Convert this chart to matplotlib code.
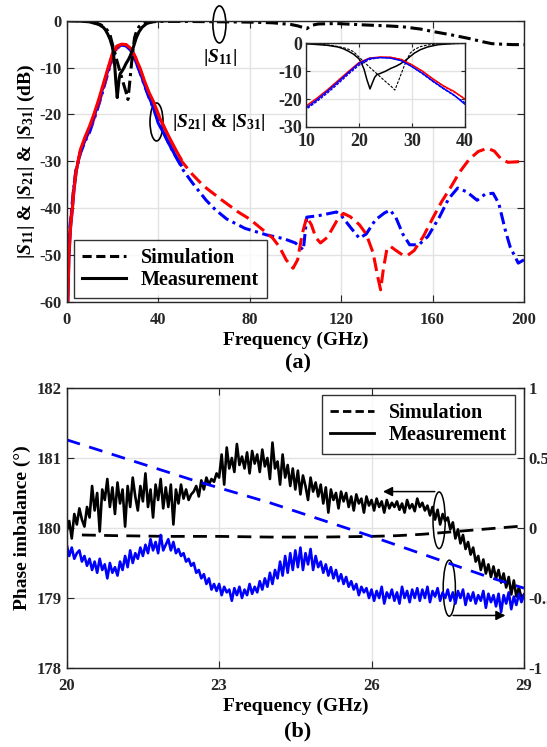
import numpy as np
import matplotlib.pyplot as plt
from matplotlib.patches import Ellipse
from matplotlib.lines import Line2D

plt.rcParams["font.family"] = ["Liberation Serif", "DejaVu Serif"]
plt.rcParams["font.weight"] = "bold"
plt.rcParams["axes.labelweight"] = "bold"
plt.rcParams["mathtext.fontset"] = "custom"
plt.rcParams["mathtext.rm"] = "Liberation Serif:bold"
plt.rcParams["mathtext.it"] = "Liberation Serif:italic:bold"
plt.rcParams["mathtext.bf"] = "Liberation Serif:bold"
plt.rcParams["axes.unicode_minus"] = False

DARK = "#262626"
GRID = "#e2e2e2"

# ---- (a) S-parameters, 0-200 GHz (simulation) and 0-50 GHz (measurement)
s11_sim_f = [0, 5, 10, 13, 15, 17, 18, 19, 20, 21, 22, 23, 24, 25, 26, 26.8, 27.5, 28.4, 29.0,
             29.7, 30.5, 31.6, 33, 35, 40, 50, 60, 70, 80, 90, 98, 101, 103, 105, 107, 110,
             118, 130, 140, 147, 155, 160, 168, 176, 182, 186, 190, 195, 200]
s11_sim_db = [0, -0.05, -0.2, -0.5, -0.9, -1.6, -2.2, -3.1, -5.0, -6.8, -8.6, -10.3, -12.0,
              -13.7, -15.3, -16.8, -13.5, -9.0, -6.2, -3.6, -2.3, -1.3, -0.7, -0.35, -0.15,
              -0.15, -0.2, -0.25, -0.3, -0.45, -0.8, -1.1, -1.4, -1.7, -1.0, -0.7, -0.6, -0.9,
              -1.1, -1.3, -1.8, -2.3, -3.0, -3.8, -4.5, -4.9, -5.0, -5.1, -5.1]

s11_meas_f = [0, 5, 10, 14, 16, 17, 18, 19, 20, 20.5, 21, 21.5, 22.1, 22.6, 23.0, 23.4, 24,
              24.5, 25, 26, 27, 27.8, 28.5, 29.2, 29.7, 30.5, 31.6, 33, 35, 38, 40, 45, 50]
s11_meas_db = [0, -0.05, -0.25, -0.8, -1.4, -2.0, -2.9, -4.0, -5.6, -7.2, -9.5, -13.0, -16.4,
               -14.0, -12.2, -11.3, -10.9, -10.5, -10.1, -9.1, -8.3, -7.5, -6.6, -5.6, -4.8,
               -3.6, -2.4, -1.4, -0.6, -0.15, -0.05, 0, 0]

s21_sim_f = [0.3, 0.8, 1.5, 2.3, 3, 4, 6, 8, 10, 12, 14, 16, 18, 20, 22, 24, 26, 28, 30, 32,
             34, 36, 38, 40, 45, 50, 55, 60, 68, 75, 80, 86, 90, 93, 96, 99, 101, 103, 105,
             107, 109, 111, 114, 118, 121, 124, 128, 131, 134, 136, 137.3, 138.5, 140, 141.5,
             144, 147, 149, 152, 156, 160, 164, 168, 172, 176, 180, 184, 187, 190, 193, 197,
             200]
s21_sim_db = [-60, -50, -44, -40, -36, -32, -28, -25.5, -23.5, -20.8, -17.8, -14.5, -11.0,
              -7.8, -5.8, -5.1, -5.1, -5.8, -7.7, -10.2, -13.0, -15.5, -17.6, -19.8, -25.3,
              -29.8, -32.8, -35.3, -38.3, -40.8, -42.3, -44.7, -46.3, -48.2, -51.0, -52.8,
              -51.0, -45.5, -41.9, -43.5, -46.3, -47.4, -46.2, -42.8, -41.1, -41.8, -43.5,
              -45.5, -49.5, -54.5, -57.4, -53.0, -48.8, -48.1, -49.0, -50.0, -50.1, -49.0,
              -46.0, -42.2, -38.6, -35.5, -32.2, -29.6, -27.9, -27.2, -27.8, -29.5, -30.2,
              -30.1, -29.9]

s31_sim_f = [0.2, 0.7, 1.4, 2.2, 3, 4, 6, 8, 10, 12, 14, 16, 18, 20, 22, 24, 26, 28, 30, 32,
             34, 36, 38, 40, 45, 48, 51, 55, 61, 65, 70, 78, 87.5, 95, 100, 102, 103.5, 105,
             110, 115, 118, 120, 124, 128, 131, 135, 139, 141.5, 144, 147, 150, 154, 158,
             163, 167, 171, 175, 179.5, 183, 186.5, 189, 192, 194, 197.5, 200]
s31_sim_db = [-60, -50, -44, -40, -36, -32, -28.3, -25.8, -23.8, -21.0, -18.0, -14.7, -11.2,
              -8.0, -5.9, -5.2, -5.3, -6.2, -8.4, -11.0, -13.8, -16.4, -18.8, -21.2, -26.6,
              -29.2, -31.9, -34.6, -38.3, -40.3, -42.3, -44.3, -45.7, -46.5, -47.4, -48.2,
              -48.9, -41.9, -41.6, -41.1, -40.8, -41.5, -44.0, -46.4, -45.5, -42.5, -41.0,
              -40.4, -42.0, -45.5, -47.8, -47.8, -46.0, -41.9, -38.0, -35.7, -36.5, -38.3,
              -37.0, -36.8, -39.0, -45.0, -48.3, -51.7, -51.0]

s21_meas_f = [0.5, 1, 1.7, 2.5, 3.2, 4.2, 6, 8, 10, 12, 14, 16, 18, 20, 22, 24, 26, 28, 30,
              32, 34, 36, 38, 40, 42, 45, 48, 50]
s21_meas_db = [-60, -50, -44, -40, -36, -32, -27.5, -24.8, -22.5, -19.8, -16.8, -13.5, -10.2,
               -7.0, -5.4, -5.0, -5.1, -5.9, -7.8, -10.0, -12.8, -15.3, -17.3, -20.0, -22.1,
               -25.0, -27.8, -29.5]

s31_meas_f = [0.5, 1, 1.7, 2.5, 3.2, 4.2, 6, 8, 10, 12, 14, 16, 18, 20, 22, 24, 26, 28, 30,
              32, 34, 36, 38, 40, 42, 45, 48, 50]
s31_meas_db = [-60, -50, -44, -40, -36, -32, -27.8, -25.4, -23.2, -20.4, -17.3, -14.0, -10.6,
               -7.3, -5.5, -5.2, -5.4, -6.3, -8.4, -10.8, -13.6, -16.2, -18.6, -21.8, -23.6,
               -26.5, -29.2, -30.8]

# ---- (b) phase / amplitude imbalance, 20-29 GHz sweep in 50 MHz steps
freq_b = np.round(np.arange(20.0, 29.001, 0.05), 2)
phase_meas = [
    179.95, 180.10, 179.85, 180.20, 180.05, 180.28, 180.12, 180.02, 180.30, 180.15,
    180.60, 180.25, 180.50, 179.95, 180.55, 180.40, 180.70, 180.30, 180.58, 180.20,
    180.65, 180.35, 180.55, 180.02, 180.60, 180.30, 180.72, 180.45, 180.25, 180.60,
    180.38, 180.78, 180.30, 180.55, 180.15, 180.62, 180.40, 180.70, 180.28, 180.58,
    180.30, 180.62, 180.05, 180.55, 180.35, 180.62, 180.42, 180.55, 180.40, 180.48,
    180.52, 180.60, 180.45, 180.68, 180.55, 180.72, 180.62, 180.70, 180.66, 180.78,
    180.72, 181.05, 180.62, 181.15, 180.85, 181.00, 180.80, 181.20, 180.90, 181.02,
    180.85, 181.08, 180.78, 181.10, 180.92, 181.05, 180.80, 181.12, 180.88, 181.00,
    180.70, 181.22, 180.85, 180.95, 180.62, 181.05, 180.72, 180.90, 180.60, 180.85,
    180.55, 180.82, 180.48, 180.75, 180.60, 180.40, 180.72, 180.52, 180.65, 180.45,
    180.62, 180.35, 180.58, 180.22, 180.55, 180.40, 180.50, 180.28, 180.52, 180.38,
    180.50, 180.30, 180.45, 180.25, 180.48, 180.35, 180.42, 180.22, 180.45, 180.32,
    180.40, 180.25, 180.42, 180.30, 180.38, 180.22, 180.40, 180.28, 180.36, 180.30,
    180.38, 180.26, 180.35, 180.22, 180.40, 180.28, 180.34, 180.24, 180.42, 180.30,
    180.36, 180.25, 180.32, 180.18, 180.30, 180.12, 180.26, 180.05, 180.20, 180.10,
    180.15, 179.98, 180.08, 179.85, 179.98, 179.78, 179.90, 179.70, 179.80, 179.62,
    179.72, 179.52, 179.60, 179.40, 179.55, 179.35, 179.48, 179.30, 179.45, 179.28,
    179.40, 179.22, 179.35, 179.15, 179.30, 179.05, 179.25, 179.02, 179.15, 179.00,
    179.05]
amp_meas = [
    -0.12, -0.20, -0.14, -0.22, -0.18, -0.16, -0.24, -0.20, -0.27, -0.22,
    -0.30, -0.24, -0.32, -0.22, -0.30, -0.26, -0.36, -0.25, -0.32, -0.28,
    -0.34, -0.24, -0.30, -0.20, -0.28, -0.16, -0.25, -0.18, -0.22, -0.14,
    -0.20, -0.12, -0.18, -0.08, -0.16, -0.10, -0.18, -0.05, -0.16, -0.12,
    -0.08, -0.16, -0.10, -0.18, -0.15, -0.20, -0.18, -0.24, -0.22, -0.27,
    -0.25, -0.32, -0.30, -0.36, -0.33, -0.40, -0.36, -0.44, -0.40, -0.45,
    -0.40, -0.48, -0.42, -0.46, -0.44, -0.52, -0.43, -0.48, -0.42, -0.50,
    -0.44, -0.48, -0.40, -0.47, -0.42, -0.46, -0.38, -0.44, -0.36, -0.42,
    -0.32, -0.40, -0.30, -0.36, -0.24, -0.34, -0.20, -0.32, -0.18, -0.30,
    -0.16, -0.28, -0.14, -0.30, -0.18, -0.26, -0.15, -0.30, -0.20, -0.28,
    -0.24, -0.32, -0.26, -0.34, -0.28, -0.36, -0.30, -0.38, -0.33, -0.40,
    -0.35, -0.42, -0.38, -0.44, -0.40, -0.48, -0.42, -0.46, -0.43, -0.50,
    -0.44, -0.52, -0.45, -0.50, -0.42, -0.54, -0.46, -0.50, -0.44, -0.52,
    -0.46, -0.54, -0.42, -0.50, -0.45, -0.53, -0.44, -0.50, -0.43, -0.52,
    -0.44, -0.50, -0.42, -0.53, -0.45, -0.49, -0.43, -0.52, -0.46, -0.50,
    -0.44, -0.52, -0.46, -0.54, -0.45, -0.50, -0.44, -0.55, -0.47, -0.52,
    -0.46, -0.54, -0.48, -0.52, -0.45, -0.57, -0.47, -0.53, -0.48, -0.56,
    -0.47, -0.60, -0.48, -0.54, -0.46, -0.58, -0.49, -0.55, -0.47, -0.53,
    -0.48]
phase_sim_f = [20.3, 21, 22, 23, 24, 25, 26, 26.5, 27, 27.5, 28, 28.5, 29]
phase_sim = [179.90, 179.89, 179.88, 179.88, 179.87, 179.87, 179.88, 179.89, 179.91, 179.94,
             179.97, 180.00, 180.03]
amp_sim_f = [20, 22.5, 24, 26, 28.3, 29]
amp_sim = [0.63, 0.34, 0.18, -0.06, -0.35, -0.43]


def style_axes(ax, size=12):
    for s in ax.spines.values():
        s.set_color(DARK)
        s.set_linewidth(1.0)
    ax.tick_params(direction="in", length=5, width=0.8, colors=DARK, labelsize=size,
                   top=True, right=True)
    ax.grid(True, color=GRID, lw=1.0)
    ax.set_axisbelow(True)


def add_legend(ax, lw, **kw):
    handles = [Line2D([], [], color="black", lw=lw, ls=(0, (3, 1.5))),
               Line2D([], [], color="black", lw=lw)]
    leg = ax.legend(handles, ["Simulation", "Measurement"], fontsize=14.5, frameon=True,
                    fancybox=False, edgecolor="black", handlelength=2.2, labelspacing=0.12,
                    borderpad=0.4, borderaxespad=0, handletextpad=0.7, **kw)
    leg.get_frame().set_linewidth(1.0)
    return leg


fig = plt.figure(figsize=(5.47, 7.47), dpi=100)

# ------------------------------------------------------------------ (a)
ax = fig.add_axes([0.1219, 0.5957, 0.8360, 0.3766])
dd = (0, (4.5, 2))
dash_dot = (0, (4, 1.5, 1, 1.5))
ax.plot(s31_sim_f, s31_sim_db, color="blue", lw=2.2, ls=dash_dot)
ax.plot(s21_sim_f, s21_sim_db, color="red", lw=2.2, ls=dd)
ax.plot(s31_meas_f, s31_meas_db, color="blue", lw=2.2)
ax.plot(s21_meas_f, s21_meas_db, color="red", lw=2.2)
ax.plot(s11_sim_f, s11_sim_db, color="black", lw=2.2, ls=dash_dot)
ax.plot(s11_meas_f, s11_meas_db, color="black", lw=2.2)
ax.set_xlim(0, 200)
ax.set_ylim(-60, 0)
ax.set_xticks(range(0, 201, 40))
ax.set_yticks(range(-60, 1, 10))
style_axes(ax)
ax.tick_params(axis="x", pad=7)
ax.set_xlabel("Frequency (GHz)", fontsize=14, labelpad=3)
ax.set_ylabel(r"$|S_{11}|$ & $|S_{21}|$ & $|S_{31}|$ (dB)", fontsize=14, labelpad=2)

ax.add_patch(Ellipse((66.8, -0.8), 5.7, 7.9, fill=False, ec="black", lw=1.2, clip_on=False))
ax.text(67, -7.9, r"$|S_{11}|$", fontsize=14, ha="center", va="center")
ax.add_patch(Ellipse((39.3, -21.6), 5.7, 8.1, fill=False, ec="black", lw=1.2))
ax.text(66.4, -21.8, r"$|S_{21}|$ & $|S_{31}|$", fontsize=14, ha="center", va="center")

add_legend(ax, 2.2, loc="lower left", bbox_to_anchor=(0.016, 0.014))

fig.text(0.545, 0.5140, "(a)", fontsize=16, ha="center", va="center")

# inset, 10-40 GHz
ins = fig.add_axes([0.5594, 0.8300, 0.2901, 0.1124])
thin = (0, (2.5, 1.2))
ins.plot(s11_sim_f, s11_sim_db, color="black", lw=0.8, ls=thin)
ins.plot(s21_sim_f, s21_sim_db, color="red", lw=0.8, ls=thin)
ins.plot(s31_sim_f, s31_sim_db, color="blue", lw=0.8, ls=thin)
ins.plot(s11_meas_f, s11_meas_db, color="black", lw=1.1)
ins.plot(s21_meas_f, s21_meas_db, color="red", lw=1.1)
ins.plot(s31_meas_f, s31_meas_db, color="blue", lw=1.1)
ins.set_xlim(10, 40)
ins.set_ylim(-30, 0)
ins.set_xticks([10, 20, 30, 40])
ins.set_yticks([-30, -20, -10, 0])
style_axes(ins, size=13)
ins.tick_params(length=3, pad=2.5)
ins.tick_params(axis="x", pad=4.5)

# ------------------------------------------------------------------ (b)
axb = fig.add_axes([0.1219, 0.1058, 0.8360, 0.3748])
axb.plot(freq_b, phase_meas, color="black", lw=1.9)
axb.plot(phase_sim_f, phase_sim, color="black", lw=2.0, ls=(0, (5, 3)))
axb.set_xlim(20, 29)
axb.set_ylim(178, 182)
axb.set_xticks([20, 23, 26, 29])
axb.set_yticks([178, 179, 180, 181, 182])
style_axes(axb)
axb.tick_params(right=False)
axb.tick_params(axis="x", pad=7)
axb.set_xlabel("Frequency (GHz)", fontsize=14, labelpad=3)
axb.set_ylabel("Phase imbalance (°)", fontsize=14, labelpad=4)

axr = axb.twinx()
axr.plot(freq_b, amp_meas, color="blue", lw=1.9)
axr.plot(amp_sim_f, amp_sim, color="blue", lw=2.0, ls=(0, (5, 3.5)))
axr.set_ylim(-1, 1)
axr.set_yticks([-1, -0.5, 0, 0.5, 1])
axr.set_yticklabels(["-1", "-0.5", "0", "0.5", "1"])
for s in axr.spines.values():
    s.set_color(DARK)
axr.tick_params(direction="in", length=5, width=0.8, colors=DARK, labelsize=12)

# markers pointing each trace to its axis (right axis units: (deg - 180) / 2)
axr.add_patch(Ellipse((27.33, 0.055), 0.24, 0.405, fill=False, ec="black", lw=1.1))
axr.annotate("", xy=(26.17, 0.26), xytext=(27.30, 0.26),
             arrowprops=dict(arrowstyle="-|>", color="black", lw=1.1, mutation_scale=14))
axr.add_patch(Ellipse((27.53, -0.43), 0.24, 0.40, fill=False, ec="black", lw=1.1))
axr.annotate("", xy=(28.69, -0.625), xytext=(27.55, -0.625),
             arrowprops=dict(arrowstyle="-|>", color="black", lw=1.1, mutation_scale=14))

add_legend(axr, 2.0, loc="upper right", bbox_to_anchor=(0.98, 0.975))

fig.text(0.545, 1 - 731 / 747, "(b)", fontsize=16, ha="center", va="center")

fig.savefig("out.png", dpi=100)
